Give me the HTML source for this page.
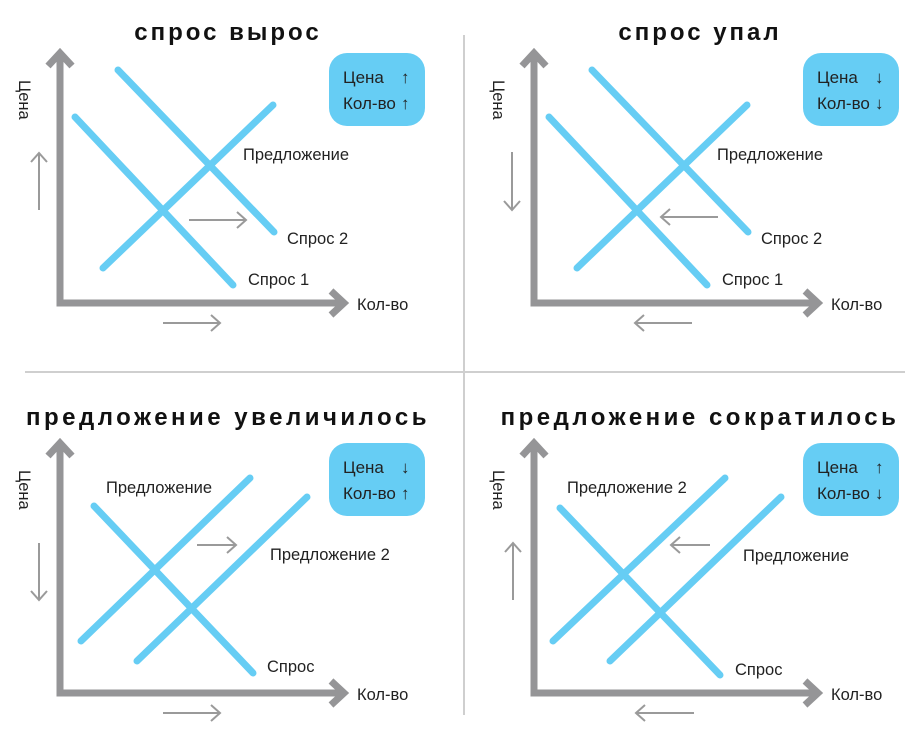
<!DOCTYPE html>
<html><head><meta charset="utf-8"><style>
body{margin:0;background:#fff}
svg{display:block}
text{font-family:"Liberation Sans","DejaVu Sans",sans-serif;fill:#222}
.t{font-size:24px;font-weight:bold;fill:#111;letter-spacing:3px}
.l{font-size:16.5px}
.k{font-size:17px}
.ax{stroke:#959597;stroke-width:7;fill:none}
.ah{stroke:#959597;stroke-width:7;fill:none;stroke-linejoin:miter}
.b{stroke:#66cdf4;stroke-width:7;stroke-linecap:round;fill:none}
.g{stroke:#9a9a9a;stroke-width:2;fill:none}
</style></head><body>
<svg width="922" height="731" viewBox="0 0 922 731" xmlns="http://www.w3.org/2000/svg">
<line x1="464" y1="35" x2="464" y2="715" stroke="#cfcfcf" stroke-width="2"/>
<line x1="25" y1="372" x2="905" y2="372" stroke="#cfcfcf" stroke-width="2"/>

<defs>
<g id="axes">
<path class="ax" d="M60,55 V303 H340"/>
<path class="ah" d="M48,66 L60,53 L72,66"/>
<path class="ah" d="M331,291 L344,303 L331,315"/>
<text class="l" x="357" y="310">Кол-во</text>
<text class="l" transform="translate(19,80) rotate(90)">Цена</text>
<rect x="329" y="53" width="96" height="73" rx="18" fill="#66cdf4"/>
<text class="k" x="343" y="83">Цена</text>
<text class="k" x="343" y="109">Кол-во</text>
</g>
</defs>

<!-- Panel 1 -->
<text class="t" x="228" y="40" text-anchor="middle">спрос вырос</text>
<use href="#axes"/>
<text class="k" x="401" y="83">↑</text><text class="k" x="401" y="109">↑</text>
<line class="b" x1="75" y1="117" x2="233" y2="285"/>
<line class="b" x1="118" y1="70" x2="274" y2="232"/>
<line class="b" x1="103" y1="268" x2="273" y2="105"/>
<text class="l" x="243" y="160">Предложение</text>
<text class="l" x="287" y="244">Спрос 2</text>
<text class="l" x="248" y="285">Спрос 1</text>
<path class="g" d="M39,210 V154 M31,162 L39,153 L47,162"/>
<path class="g" d="M189,220 H245 M237,212 L246,220 L237,228"/>
<path class="g" d="M163,323 H219 M211,315 L220,323 L211,331"/>

<!-- Panel 2 -->
<text class="t" x="700" y="40" text-anchor="middle">спрос упал</text>
<use href="#axes" x="474"/>
<text class="k" x="875" y="83">↓</text><text class="k" x="875" y="109">↓</text>
<line class="b" x1="549" y1="117" x2="707" y2="285"/>
<line class="b" x1="592" y1="70" x2="748" y2="232"/>
<line class="b" x1="577" y1="268" x2="747" y2="105"/>
<text class="l" x="717" y="160">Предложение</text>
<text class="l" x="761" y="244">Спрос 2</text>
<text class="l" x="722" y="285">Спрос 1</text>
<path class="g" d="M512,152 V209 M504,201 L512,210 L520,201"/>
<path class="g" d="M718,217 H662 M670,209 L661,217 L670,225"/>
<path class="g" d="M692,323 H636 M644,315 L635,323 L644,331"/>

<!-- Panel 3 -->
<text class="t" x="228" y="425" text-anchor="middle" style="letter-spacing:3.5px">предложение увеличилось</text>
<use href="#axes" y="390"/>
<text class="k" x="401" y="473">↓</text><text class="k" x="401" y="499">↑</text>
<line class="b" x1="94" y1="506" x2="253" y2="673"/>
<line class="b" x1="81" y1="641" x2="250" y2="478"/>
<line class="b" x1="137" y1="661" x2="307" y2="497"/>
<text class="l" x="106" y="493">Предложение</text>
<text class="l" x="270" y="560">Предложение 2</text>
<text class="l" x="267" y="672">Спрос</text>
<path class="g" d="M39,543 V599 M31,591 L39,600 L47,591"/>
<path class="g" d="M197,545 H235 M227,537 L236,545 L227,553"/>
<path class="g" d="M163,713 H219 M211,705 L220,713 L211,721"/>

<!-- Panel 4 -->
<text class="t" x="700" y="425" text-anchor="middle" style="letter-spacing:3.5px">предложение сократилось</text>
<use href="#axes" x="474" y="390"/>
<text class="k" x="875" y="473">↑</text><text class="k" x="875" y="499">↓</text>
<line class="b" x1="560" y1="508" x2="720" y2="675"/>
<line class="b" x1="553" y1="641" x2="725" y2="478"/>
<line class="b" x1="610" y1="661" x2="781" y2="497"/>
<text class="l" x="567" y="493">Предложение 2</text>
<text class="l" x="743" y="561">Предложение</text>
<text class="l" x="735" y="675">Спрос</text>
<path class="g" d="M513,600 V544 M505,552 L513,543 L521,552"/>
<path class="g" d="M710,545 H672 M680,537 L671,545 L680,553"/>
<path class="g" d="M694,713 H637 M645,705 L636,713 L645,721"/>
</svg>
</body></html>
